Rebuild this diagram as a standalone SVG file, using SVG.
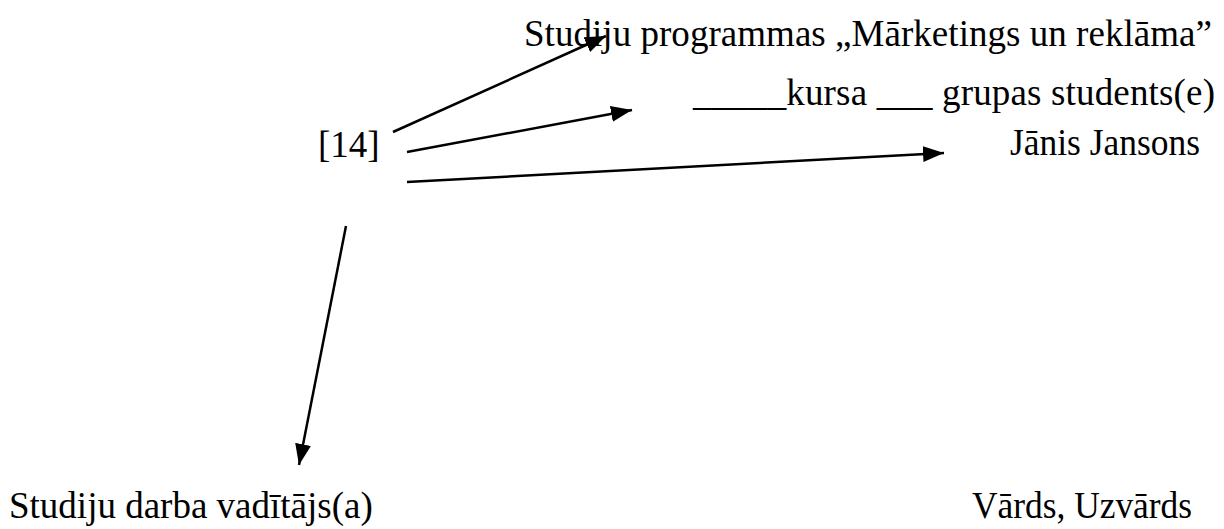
<svg xmlns="http://www.w3.org/2000/svg" width="1224" height="529" viewBox="0 0 1224 529">
  <style>
    text { font-family: "Liberation Serif", "Times New Roman", serif; font-size: 37px; fill: #000; }
    .conn { stroke: #000; stroke-width: 2.5; fill: none; marker-end: url(#ah); }
  </style>
  <defs>
    <marker id="ah" markerUnits="userSpaceOnUse" markerWidth="24" markerHeight="18" refX="21" refY="8" orient="auto">
      <path d="M0,0 L21,8 L0,16 z" fill="#000"/>
    </marker>
  </defs>
  <rect width="1224" height="529" fill="#fff"/>
  <g id="connectors">
    <line class="conn" x1="393" y1="132" x2="606" y2="36"/>
    <line class="conn" x1="407" y1="152" x2="632" y2="110"/>
    <line class="conn" x1="407" y1="182" x2="944" y2="153"/>
    <line class="conn" x1="346" y1="226" x2="299" y2="465"/>
  </g>
  <g id="node-source"><text x="318" y="157">[14]</text></g>
  <g id="node-program"><text x="524" y="46" textLength="688" lengthAdjust="spacing">Studiju programmas „Mārketings un reklāma”</text></g>
  <g id="node-course"><text x="693" y="105" textLength="522" lengthAdjust="spacing">_____kursa ___ grupas students(e)</text></g>
  <g id="node-name"><text x="1010" y="155" textLength="190" lengthAdjust="spacingAndGlyphs">Jānis Jansons</text></g>
  <g id="node-supervisor"><text x="9" y="518">Studiju darba vadītājs(a)</text></g>
  <g id="node-supervisor-name"><text x="972" y="518" textLength="220" lengthAdjust="spacingAndGlyphs">Vārds, Uzvārds</text></g>
</svg>
